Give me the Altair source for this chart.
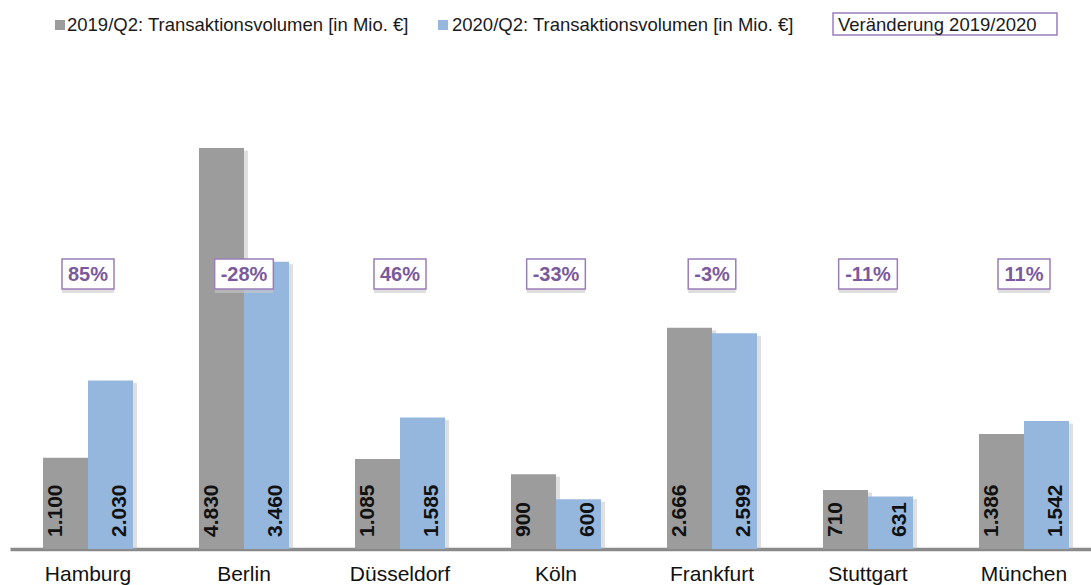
import altair as alt
import pandas as pd

cities = ["Hamburg", "Berlin", "Düsseldorf", "Köln", "Frankfurt", "Stuttgart", "München"]
series = ["2019/Q2: Transaktionsvolumen [in Mio. €]", "2020/Q2: Transaktionsvolumen [in Mio. €]"]
v2019 = [1100, 4830, 1085, 900, 2666, 710, 1386]
v2020 = [2030, 3460, 1585, 600, 2599, 631, 1542]
changes = ["85%", "-28%", "46%", "-33%", "-3%", "-11%", "11%"]
change_title = "Veränderung 2019/2020"

GRAY = "#9c9c9c"
BLUE = "#95b7de"
PURPLE_TXT = "#7a5a9c"
PURPLE_BOX = "#9b7db9"
FONT = "Liberation Sans"

rows = []
for c, a, b in zip(cities, v2019, v2020):
    rows.append({"city": c, "series": series[0], "value": a})
    rows.append({"city": c, "series": series[1], "value": b})
df = pd.DataFrame(rows)
df_change = pd.DataFrame({"city": cities, "label": changes})
df_one = pd.DataFrame({"k": [0]})

xscale = alt.Scale(domain=cities, range=[10, 1102], paddingInner=0, paddingOuter=0)
yscale = alt.Scale(domain=[0, 6613], nice=False, zero=True)
offscale = alt.Scale(domain=series, paddingInner=0, paddingOuter=0.733)

x_enc = alt.X("city:N", scale=xscale, sort=cities,
              axis=alt.Axis(title=None, labelAngle=0, ticks=False, domain=True,
                            domainColor="#8a8a8a", domainWidth=3.5,
                            labelFontSize=21, labelFont=FONT, labelColor="#111111",
                            labelPadding=14))
color_enc = alt.Color("series:N", scale=alt.Scale(domain=series, range=[GRAY, BLUE]), legend=None)

base = alt.Chart(df)

shadow = base.transform_calculate(top="datum.value - 30").mark_bar(
    color="#b0b0b0", opacity=0.4
).encode(
    x=x_enc,
    xOffset=alt.XOffset("series:N", scale=alt.Scale(domain=series, paddingInner=0,
                                                     paddingOuter=0.733, range=[4, 160])),
    y=alt.Y("top:Q", scale=yscale, axis=None),
    y2=alt.Y2Datum(0),
)

bars = base.mark_bar().encode(
    x=x_enc,
    xOffset=alt.XOffset("series:N", scale=offscale),
    y=alt.Y("value:Q", scale=yscale, axis=None),
    color=color_enc,
)

vals = base.transform_calculate(
    lab="replace(format(datum.value, ','), ',', '.')"
).mark_text(angle=270, align="left", baseline="middle", dx=12,
            fontSize=21, fontWeight="bold", font=FONT, color="#111111").encode(
    x=x_enc,
    xOffset=alt.XOffset("series:N", scale=offscale),
    y=alt.YDatum(0, scale=yscale, axis=None),
    text="lab:N",
)

chg = alt.Chart(df_change).transform_calculate(
    w="12 + 20*(0.556*(length(datum.label) - 1 - (indexof(datum.label, '-') >= 0 ? 1 : 0)) + 0.889 + (indexof(datum.label, '-') >= 0 ? 0.333 : 0))"
)
box_shadow = chg.mark_bar(color="#c8c8c8", opacity=0.6).encode(
    x=x_enc, size=alt.Size("w:Q", scale=None), y=alt.value(289), y2=alt.value(293)
)
boxes = chg.mark_bar(fill="white", stroke=PURPLE_BOX, strokeWidth=1.5).encode(
    x=x_enc, size=alt.Size("w:Q", scale=None), y=alt.value(259), y2=alt.value(289)
)
box_text = chg.mark_text(fontSize=20, fontWeight="bold", font=FONT, color=PURPLE_TXT,
                         baseline="middle", dy=1).encode(
    x=x_enc, y=alt.value(274), text="label:N"
)

leg = alt.Chart(df_one)
leg1_sq = leg.mark_rect(color=GRAY).encode(x=alt.value(55), x2=alt.value(65), y=alt.value(20), y2=alt.value(30))
leg1_tx = leg.mark_text(align="left", baseline="middle", fontSize=18.5, font=FONT, color="#1a1a1a").encode(
    x=alt.value(67), y=alt.value(25), text=alt.value(series[0]))
leg2_sq = leg.mark_rect(color=BLUE).encode(x=alt.value(438), x2=alt.value(448), y=alt.value(20), y2=alt.value(30))
leg2_tx = leg.mark_text(align="left", baseline="middle", fontSize=18.5, font=FONT, color="#1a1a1a").encode(
    x=alt.value(452), y=alt.value(25), text=alt.value(series[1]))
leg3_box = leg.mark_rect(fill="white", stroke=PURPLE_BOX, strokeWidth=1.5).encode(
    x=alt.value(833), x2=alt.value(1057), y=alt.value(13), y2=alt.value(35))
leg3_tx = leg.mark_text(align="left", baseline="middle", fontSize=18.5, font=FONT, color="#1a1a1a").encode(
    x=alt.value(838), y=alt.value(25), text=alt.value(change_title))

chart = alt.layer(
    shadow, bars, vals, box_shadow, boxes, box_text,
    leg1_sq, leg1_tx, leg2_sq, leg2_tx, leg3_box, leg3_tx
).resolve_scale(xOffset="independent").properties(
    width=1091, height=549,
    background="white",
    autosize=alt.AutoSizeParams(type="none"),
    padding={"left": 0, "top": 0, "right": 0, "bottom": 36},
).configure_view(stroke=None)

chart.save("out.html", embed_options={"renderer": "svg", "actions": False})
